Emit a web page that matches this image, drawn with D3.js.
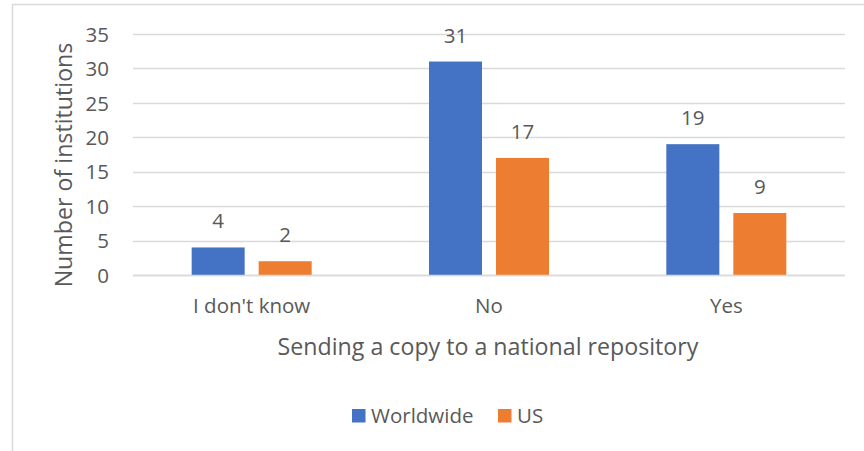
<!DOCTYPE html>
<html><head><meta charset="utf-8">
<script src="https://cdn.jsdelivr.net/npm/d3@7"></script>
<style>body{margin:0;background:#fff}svg{display:block}text{font-family:"Open Sans","Liberation Sans",sans-serif;fill:#595959}</style>
</head><body><svg id="c" width="864" height="451"></svg>
<script>
const categories = ["I don't know", "No", "Yes"];
const seriesNames = ["Worldwide", "US"];
const worldwide = [4, 31, 19];
const us = [2, 17, 9];
const yTicks = [0, 5, 10, 15, 20, 25, 30, 35];
const colors = ["#4472C4", "#ED7D31"];
const xTitle = "Sending a copy to a national repository";
const yTitle = "Number of institutions";

const svg = d3.select("#c");
svg.append("rect").attr("x", 12.5).attr("y", 4.5).attr("width", 900).attr("height", 500)
  .attr("fill", "none").attr("stroke", "#d9d9d9").attr("stroke-width", 1.5);

const L = 133, R = 845, T = 34, B = 275;
const FS = 20.5;
const x = d3.scaleBand().domain(categories).range([L, R]).paddingInner(0).paddingOuter(0);
const y = d3.scaleLinear().domain([0, 35]).range([B, T]);
const barW = 53, gap = 14;
const xs = d3.scaleOrdinal().domain(seriesNames).range([-(gap / 2 + barW), gap / 2]);

const g = svg.append("g");
g.selectAll("line.grid").data(yTicks).join("line")
  .attr("x1", L).attr("x2", R).attr("y1", d => Math.round(y(d)) + 0.5).attr("y2", d => Math.round(y(d)) + 0.5)
  .attr("stroke", "#d9d9d9").attr("stroke-width", 1.3);

const yAxis = d3.axisLeft(y).tickValues(yTicks).tickSize(0).tickPadding(0);
const ya = g.append("g").attr("transform", `translate(${L - 24},0)`).call(yAxis);
ya.select(".domain").remove();
ya.selectAll("text").attr("font-size", FS).attr("fill", "#595959").attr("dy", "0.35em").style("font-family", "'Open Sans'");

const data = seriesNames.map((s, i) => ({ s, vals: i === 0 ? worldwide : us, c: colors[i] }));
data.forEach(ser => {
  const gg = g.append("g");
  gg.selectAll("rect").data(categories.map((c, j) => ({ c, v: ser.vals[j] }))).join("rect")
    .attr("x", d => x(d.c) + x.bandwidth() / 2 + xs(ser.s)).attr("width", barW)
    .attr("y", d => y(d.v)).attr("height", d => y(0) - y(d.v)).attr("fill", ser.c);
  gg.selectAll("text").data(categories.map((c, j) => ({ c, v: ser.vals[j] }))).join("text")
    .attr("x", d => x(d.c) + x.bandwidth() / 2 + xs(ser.s) + barW / 2)
    .attr("y", d => y(d.v) - 19).attr("text-anchor", "middle").attr("font-size", FS).text(d => d.v);
});
g.append("line").attr("x1", L).attr("x2", R).attr("y1", B + 0.5).attr("y2", B + 0.5).attr("stroke", "#d9d9d9").attr("stroke-width", 1.5);

const xAxis = d3.axisBottom(x).tickSize(0).tickPadding(0);
const xa = g.append("g").attr("transform", `translate(0,${B})`).call(xAxis);
xa.select(".domain").remove();
xa.selectAll("text").attr("font-size", FS).attr("fill", "#595959").attr("dy", 0).attr("y", 38).style("font-family", "'Open Sans'");

svg.append("text").attr("x", 488).attr("y", 355).attr("text-anchor", "middle").attr("font-size", 23.2).text(xTitle);
svg.append("text").attr("transform", "translate(72,165) rotate(-90)").attr("text-anchor", "middle").attr("font-size", 23.2).text(yTitle);

const leg = svg.append("g");
const legX = [352, 498];
seriesNames.forEach((s, i) => {
  leg.append("rect").attr("x", legX[i]).attr("y", 409).attr("width", 13.5).attr("height", 13.5).attr("fill", colors[i]);
  leg.append("text").attr("x", legX[i] + 19).attr("y", 422.5).attr("font-size", FS).text(s);
});
</script></body></html>
